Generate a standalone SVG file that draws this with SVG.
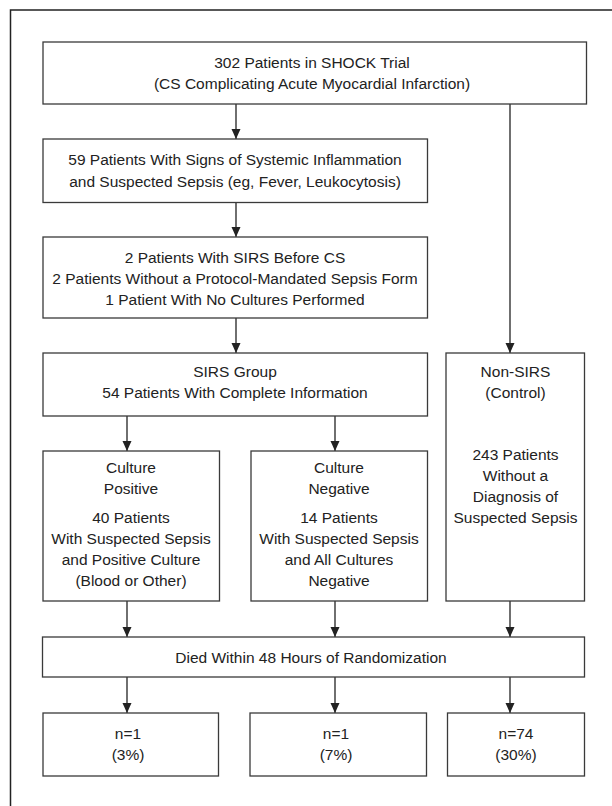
<svg xmlns="http://www.w3.org/2000/svg" width="612" height="806" viewBox="0 0 612 806">
<style>
.box{fill:#fff;stroke:#3a3a3a;stroke-width:1.3}
.t{font-family:"Liberation Sans",Arial,sans-serif;font-size:15.5px;fill:#222;text-anchor:middle}
.c{stroke:#222;stroke-width:1.3;fill:none}
.frame{stroke:#222;stroke-width:1.5;fill:none}
</style>
<defs>
<marker id="ah" markerUnits="userSpaceOnUse" markerWidth="10" markerHeight="10" refX="10" refY="5" orient="auto">
<path d="M0,0.5 L10,5 L0,9.5 z" fill="#222"/>
</marker>
</defs>
<rect width="612" height="806" fill="#fff"/>
<path class="frame" d="M10.5,806 V10 H612"/>

<g id="connectors">
<line class="c" x1="236" y1="104" x2="236" y2="139" marker-end="url(#ah)"/>
<line class="c" x1="510" y1="104" x2="510" y2="353" marker-end="url(#ah)"/>
<line class="c" x1="236" y1="203" x2="236" y2="237" marker-end="url(#ah)"/>
<line class="c" x1="236" y1="318" x2="236" y2="353" marker-end="url(#ah)"/>
<line class="c" x1="127" y1="416" x2="127" y2="451" marker-end="url(#ah)"/>
<line class="c" x1="335" y1="416" x2="335" y2="451" marker-end="url(#ah)"/>
<line class="c" x1="127" y1="601" x2="127" y2="637" marker-end="url(#ah)"/>
<line class="c" x1="335" y1="601" x2="335" y2="637" marker-end="url(#ah)"/>
<line class="c" x1="510" y1="601" x2="510" y2="637" marker-end="url(#ah)"/>
<line class="c" x1="127" y1="677" x2="127" y2="713" marker-end="url(#ah)"/>
<line class="c" x1="335" y1="677" x2="335" y2="713" marker-end="url(#ah)"/>
<line class="c" x1="510" y1="677" x2="510" y2="713" marker-end="url(#ah)"/>
</g>

<g id="trial">
<rect class="box" x="43" y="42" width="543.5" height="62"/>
<text class="t" x="312" y="68">302 Patients in SHOCK Trial</text>
<text class="t" x="312" y="89">(CS Complicating Acute Myocardial Infarction)</text>
</g>

<g id="inflammation">
<rect class="box" x="43" y="139" width="384.5" height="63.5"/>
<text class="t" x="235" y="165">59 Patients With Signs of Systemic Inflammation</text>
<text class="t" x="235" y="186.5">and Suspected Sepsis (eg, Fever, Leukocytosis)</text>
</g>

<g id="excluded">
<rect class="box" x="43" y="237" width="384.5" height="81"/>
<text class="t" x="235" y="263">2 Patients With SIRS Before CS</text>
<text class="t" x="235" y="284">2 Patients Without a Protocol-Mandated Sepsis Form</text>
<text class="t" x="235" y="305">1 Patient With No Cultures Performed</text>
</g>

<g id="sirs">
<rect class="box" x="43" y="353" width="384.5" height="63"/>
<text class="t" x="235" y="377">SIRS Group</text>
<text class="t" x="235" y="398">54 Patients With Complete Information</text>
</g>

<g id="nonsirs">
<rect class="box" x="446" y="353" width="138.5" height="248"/>
<text class="t" x="515.5" y="377">Non-SIRS</text>
<text class="t" x="515.5" y="398">(Control)</text>
<text class="t" x="515.5" y="460">243 Patients</text>
<text class="t" x="515.5" y="481">Without a</text>
<text class="t" x="515.5" y="502">Diagnosis of</text>
<text class="t" x="515.5" y="522.5">Suspected Sepsis</text>
</g>

<g id="culture-positive">
<rect class="box" x="43" y="451" width="176.5" height="150"/>
<text class="t" x="131" y="473">Culture</text>
<text class="t" x="131" y="493.5">Positive</text>
<text class="t" x="131" y="522.5">40 Patients</text>
<text class="t" x="131" y="544">With Suspected Sepsis</text>
<text class="t" x="131" y="565">and Positive Culture</text>
<text class="t" x="131" y="585.5">(Blood or Other)</text>
</g>

<g id="culture-negative">
<rect class="box" x="251" y="451" width="176.5" height="150"/>
<text class="t" x="339" y="473">Culture</text>
<text class="t" x="339" y="493.5">Negative</text>
<text class="t" x="339" y="522.5">14 Patients</text>
<text class="t" x="339" y="544">With Suspected Sepsis</text>
<text class="t" x="339" y="565">and All Cultures</text>
<text class="t" x="339" y="585.5">Negative</text>
</g>

<g id="died">
<rect class="box" x="42.5" y="637" width="542" height="40"/>
<text class="t" x="311" y="663">Died Within 48 Hours of Randomization</text>
</g>

<g id="outcome-positive">
<rect class="box" x="43" y="713" width="175.5" height="63"/>
<text class="t" x="128" y="738.5">n=1</text>
<text class="t" x="128" y="759.5">(3%)</text>
</g>

<g id="outcome-negative">
<rect class="box" x="250" y="713" width="176.5" height="63"/>
<text class="t" x="336" y="738.5">n=1</text>
<text class="t" x="336" y="759.5">(7%)</text>
</g>

<g id="outcome-nonsirs">
<rect class="box" x="447.5" y="713" width="137" height="63"/>
<text class="t" x="516" y="738.5">n=74</text>
<text class="t" x="516" y="759.5">(30%)</text>
</g>
</svg>
